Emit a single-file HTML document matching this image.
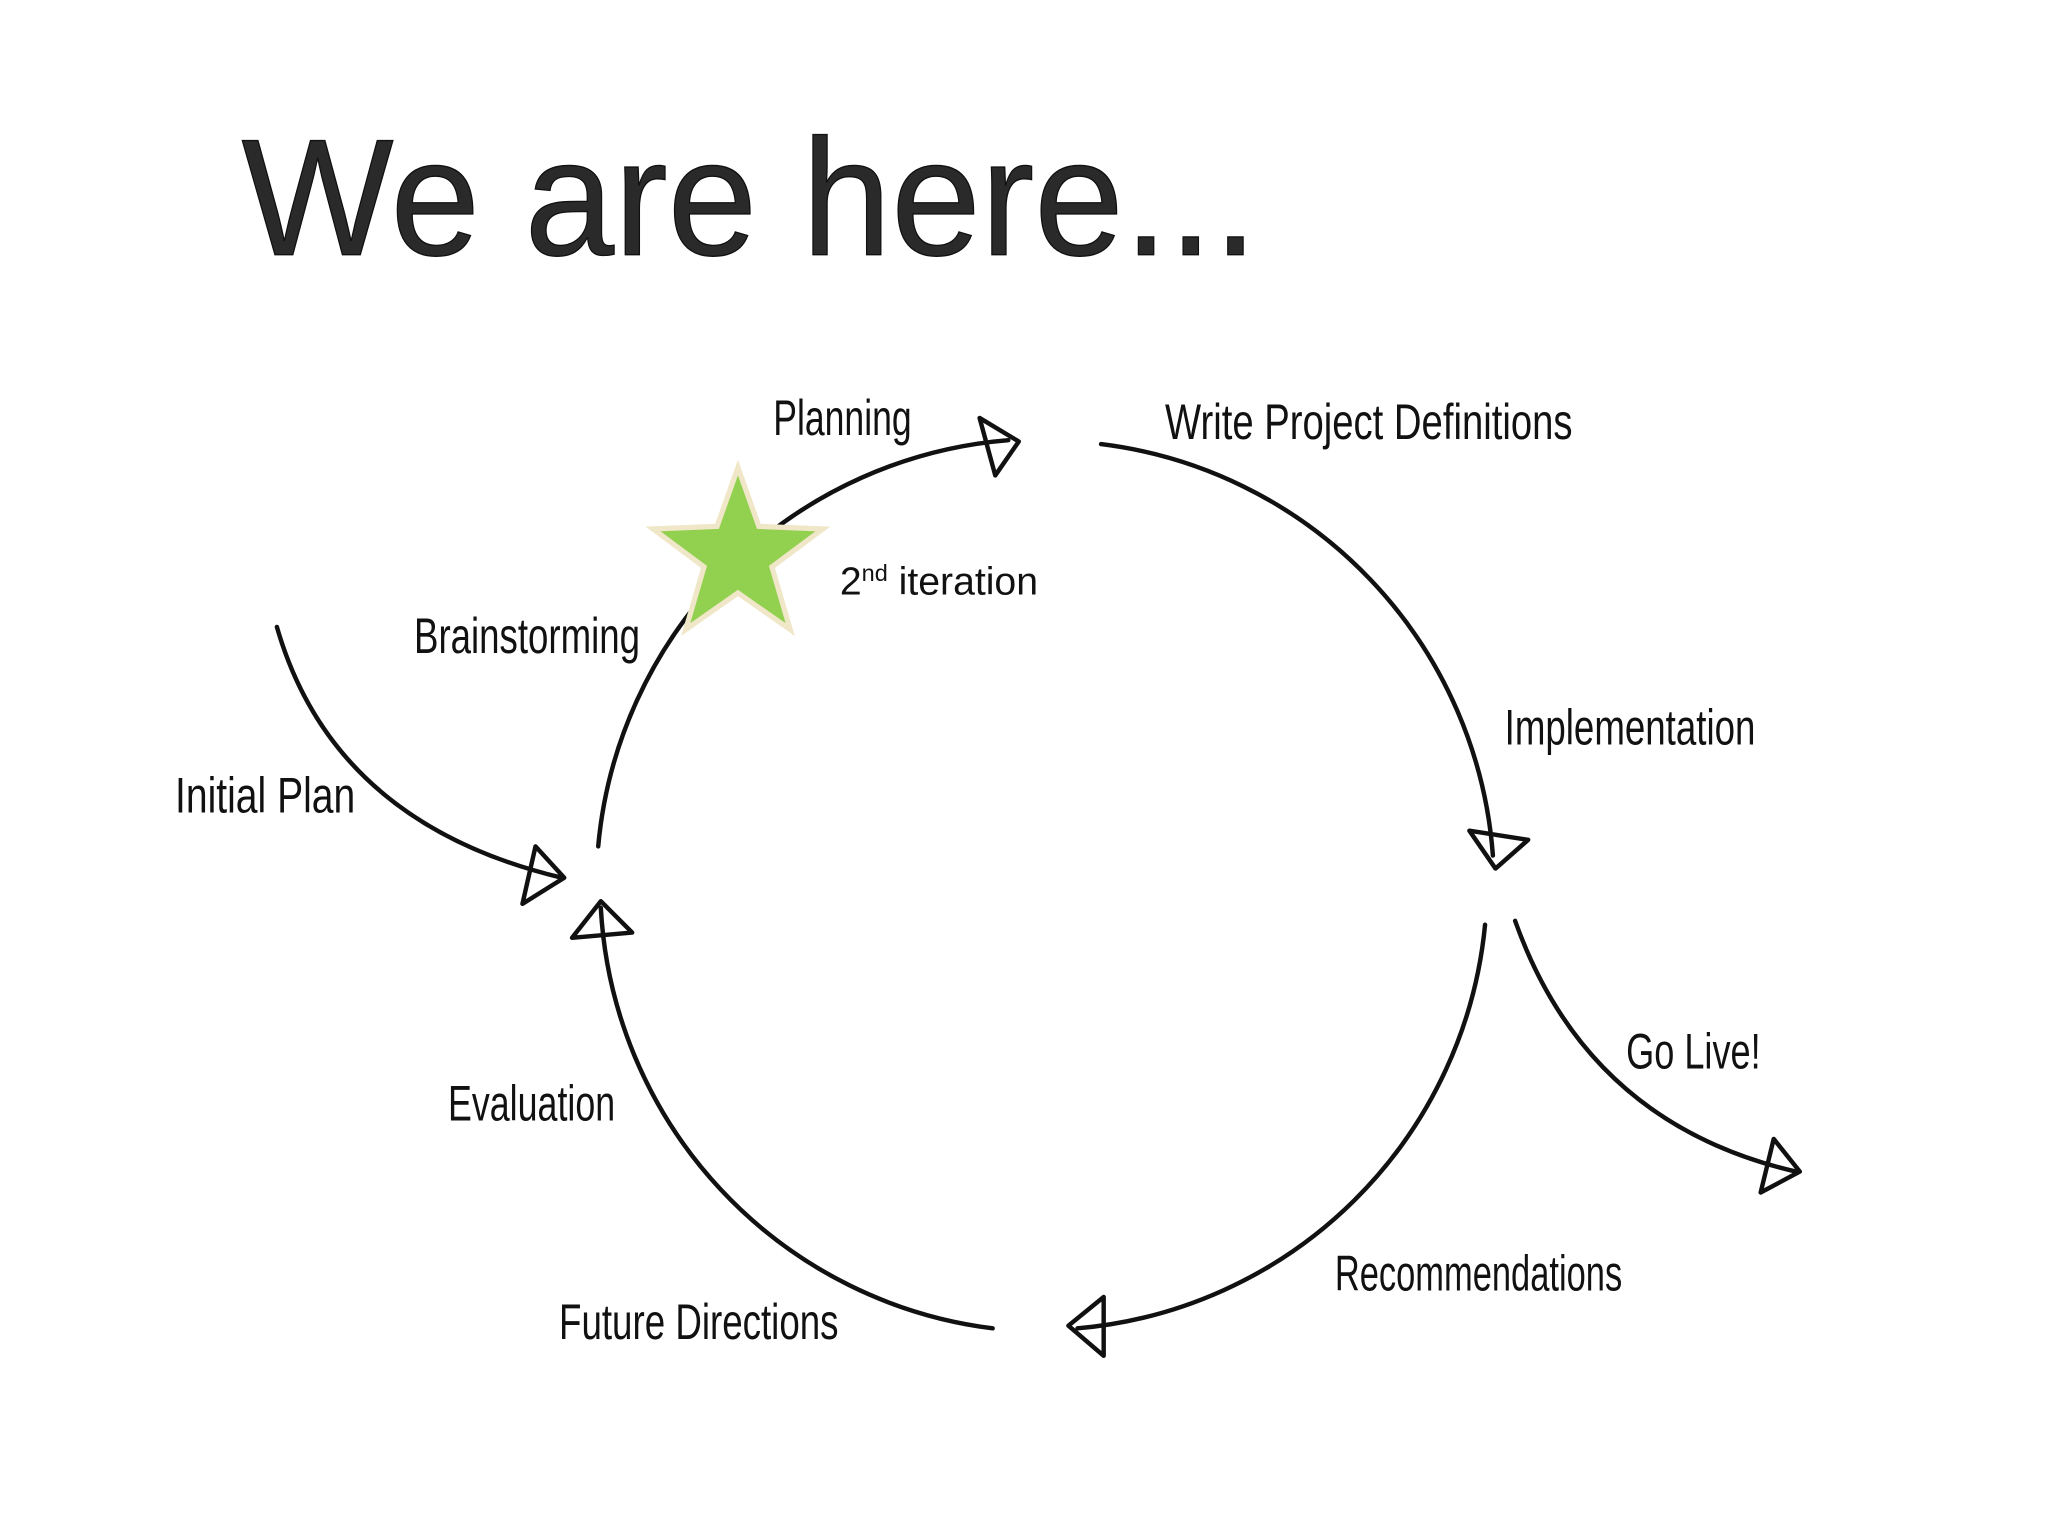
<!DOCTYPE html>
<html><head><meta charset="utf-8"><style>
html,body{margin:0;padding:0;background:#fff;}
svg{display:block;}
.l{font-family:"Liberation Sans Narrow","Liberation Sans",sans-serif;font-size:38px;fill:#111;}
</style></head><body>
<svg width="2048" height="1536" viewBox="0 0 1568 1176" xmlns="http://www.w3.org/2000/svg">
<rect width="1568" height="1176" fill="#fff"/>
<text x="185" y="195" font-family="Liberation Sans, sans-serif" font-size="127" fill="#2a2a2a" stroke="#111" stroke-width="1" textLength="778" lengthAdjust="spacingAndGlyphs">We are here...</text>
<g fill="none" stroke="#111" stroke-width="3.4" stroke-linecap="round" stroke-linejoin="round">
<path d="M458,648 A343,343 0 0 1 772,337"/>
<path d="M750,320 L780,338 L762,364 Z"/>
<path d="M843,340 A343,343 0 0 1 1143,655"/>
<path d="M1125,636 L1170,643 L1145,665 Z"/>
<path d="M1137,708 A343,343 0 0 1 825,1017"/>
<path d="M845,993 L818,1015 L845,1038 Z"/>
<path d="M760,1017 A343,343 0 0 1 460,695"/>
<path d="M438,718 L460,690 L484,714 Z"/>
<path d="M212,480 Q255,630 430,672"/>
<path d="M410,648 L432,672 L400,692 Z"/>
<path d="M1160,705 Q1215,860 1375,897"/>
<path d="M1358,872 L1378,897 L1348,913 Z"/>
</g>
<polygon points="565,358 581,403 630,405 591,434 605,482 565,454 525,482 539,434 500,405 549,403" fill="#92d050" stroke="#f0e6c8" stroke-width="4" stroke-linejoin="miter"/>
<text class="l" x="592" y="333" textLength="106" lengthAdjust="spacingAndGlyphs">Planning</text>
<text class="l" x="892" y="336" textLength="312" lengthAdjust="spacingAndGlyphs">Write  Project  Definitions</text>
<text x="643" y="455" font-family="Liberation Sans, sans-serif" font-size="30" fill="#111">2<tspan font-size="18" dy="-10">nd</tspan><tspan dy="10"> iteration</tspan></text>
<text class="l" x="317" y="500" textLength="173" lengthAdjust="spacingAndGlyphs">Brainstorming</text>
<text class="l" x="1152" y="570" textLength="192" lengthAdjust="spacingAndGlyphs">Implementation</text>
<text class="l" x="134" y="622" textLength="138" lengthAdjust="spacingAndGlyphs">Initial  Plan</text>
<text class="l" x="1245" y="818" textLength="103" lengthAdjust="spacingAndGlyphs">Go  Live!</text>
<text class="l" x="343" y="858" textLength="128" lengthAdjust="spacingAndGlyphs">Evaluation</text>
<text class="l" x="1022" y="988" textLength="220" lengthAdjust="spacingAndGlyphs">Recommendations</text>
<text class="l" x="428" y="1025" textLength="214" lengthAdjust="spacingAndGlyphs">Future  Directions</text>
</svg>
</body></html>
